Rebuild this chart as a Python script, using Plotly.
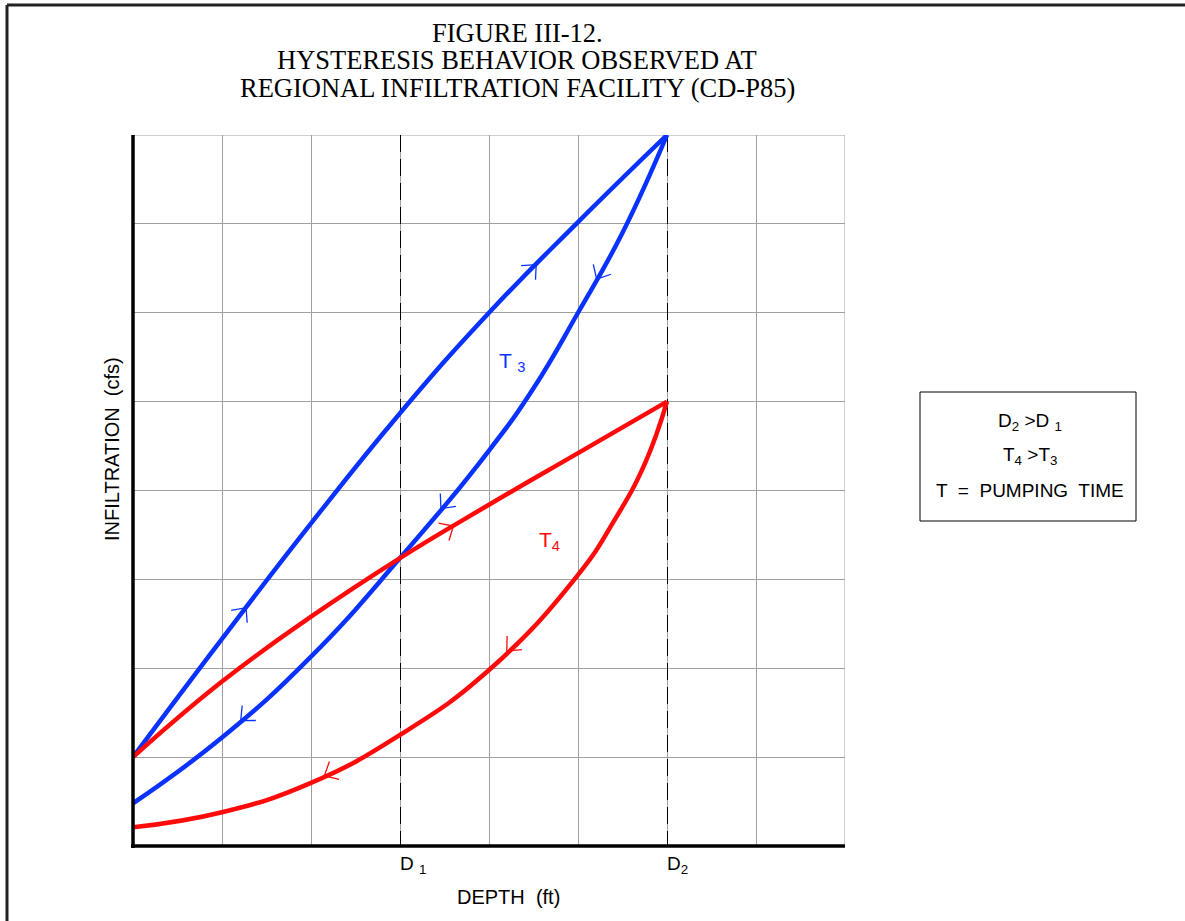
import numpy as np
import plotly.graph_objects as go

# ---------------- data ----------------
t3_up_x = [0, 1, 2, 3, 4, 5, 6]
t3_up_y = [1.0, 2.33, 3.63, 4.87, 6.0, 7.02, 8.0]

t3_down_x = [6, 5.5, 5.0, 4.5, 4.0, 3.0, 2.0, 1.0, 0]
t3_down_y = [8.0, 6.9, 6.0, 5.15, 4.45, 3.24, 2.13, 1.22, 0.48]

t4_up_x = [0, 1, 2, 3, 4, 5, 6]
t4_up_y = [1.0, 1.85, 2.58, 3.24, 3.84, 4.42, 5.0]

t4_down_x = [6, 5.75, 5.4, 5.0, 4.0, 3.0, 2.0, 1.0, 0]
t4_down_y = [5.0, 4.3, 3.65, 3.05, 1.98, 1.25, 0.71, 0.38, 0.21]

# arrow positions (x along curve); direction +1 toward larger depth, -1 back
t3_up_arrows = [1.27, 4.53]
t3_down_arrows = [5.21, 3.46, 1.21]
t4_up_arrows = [3.6]
t4_down_arrows = [4.2, 2.15]

depth_tick_vals = [3, 6]
depth_tick_text = ["D <sub>1</sub>", "D<sub>2</sub>"]

BLUE = "#0a32ff"
RED = "#ff0a0a"
SANS = "Liberation Sans, Arial, sans-serif"
SERIF = "Liberation Serif, Times New Roman, serif"

# plot area in page pixels
PL, PR, PT, PB = 133, 845, 135, 846
PW, PH = PR - PL, PB - PT


def px_x(X):
    return (X - PL) / PW


def px_y(Y):
    return (PB - Y) / PH


def chevrons(xs, ys, positions, direction):
    order = np.argsort(xs)
    sx = np.array(xs, dtype=float)[order]
    sy = np.array(ys, dtype=float)[order]
    px, py = [], []
    L = 0.17
    half = np.radians(42)
    for x0 in positions:
        y0 = np.interp(x0, sx, sy)
        slope = (np.interp(x0 + 0.05, sx, sy) - np.interp(x0 - 0.05, sx, sy)) / 0.1
        t = np.array([1.0, slope]) * direction
        t /= np.linalg.norm(t)
        b = -t
        ends = []
        for sgn in (1, -1):
            c, s = np.cos(sgn * half), np.sin(sgn * half)
            ends.append(np.array([c * b[0] - s * b[1], s * b[0] + c * b[1]]) * L)
        px += [x0 + ends[0][0], x0, x0 + ends[1][0], None]
        py += [y0 + ends[0][1], y0, y0 + ends[1][1], None]
    return px, py


fig = go.Figure()

for xs, ys, col in [
    (t3_up_x, t3_up_y, BLUE),
    (t3_down_x, t3_down_y, BLUE),
    (t4_up_x, t4_up_y, RED),
    (t4_down_x, t4_down_y, RED),
]:
    fig.add_trace(go.Scatter(x=xs, y=ys, mode="lines",
                             line=dict(color=col, width=4.5, shape="spline", smoothing=1.3),
                             hoverinfo="skip", showlegend=False))

for xs, ys, pos, d, col in [
    (t3_up_x, t3_up_y, t3_up_arrows, 1, BLUE),
    (t3_down_x, t3_down_y, t3_down_arrows, -1, BLUE),
    (t4_up_x, t4_up_y, t4_up_arrows, 1, RED),
    (t4_down_x, t4_down_y, t4_down_arrows, -1, RED),
]:
    ax, ay = chevrons(xs, ys, pos, d)
    fig.add_trace(go.Scatter(x=ax, y=ay, mode="lines",
                             line=dict(color=col, width=1.3),
                             hoverinfo="skip", showlegend=False))

fig.update_layout(
    width=1185, height=921,
    margin=dict(l=PL, r=1185 - PR, t=PT, b=921 - PB),
    paper_bgcolor="white", plot_bgcolor="white",
    xaxis=dict(
        range=[0, 8], showline=False,
        tickmode="array", tickvals=depth_tick_vals, ticktext=depth_tick_text,
        showticklabels=False, ticks="",
        showgrid=True, gridcolor="black", gridwidth=1, griddash="17px,7px",
        minor=dict(dtick=1, tick0=0, showgrid=True, gridcolor="#a0a0a0",
                   gridwidth=1, griddash="solid"),
        zeroline=False, fixedrange=True,
    ),
    yaxis=dict(
        range=[0, 8], showline=False,
        tickmode="array", tickvals=[], showticklabels=False, ticks="",
        showgrid=False,
        minor=dict(dtick=1, tick0=0, showgrid=True, gridcolor="#a0a0a0",
                   gridwidth=1, griddash="solid"),
        zeroline=False, fixedrange=True,
    ),
    font=dict(family=SANS, size=19, color="black"),
)

# grid lines at the far edges of the range (top and right)
fig.add_shape(type="line", xref="x", yref="y", x0=0, x1=8, y0=8, y1=8,
              line=dict(color="#a0a0a0", width=1), layer="below")
fig.add_shape(type="line", xref="x", yref="y", x0=8, x1=8, y0=0, y1=8,
              line=dict(color="#a0a0a0", width=1), layer="below")

# heavy axis lines (left and bottom), paper-referenced so they are not clipped
fig.add_shape(type="line", xref="paper", yref="paper", x0=0, x1=0, y0=px_y(848), y1=1,
              line=dict(color="black", width=3.5), layer="above")
fig.add_shape(type="line", xref="paper", yref="paper", x0=px_x(131), x1=1, y0=0, y1=0,
              line=dict(color="black", width=3.5), layer="above")

# Title (three lines)
for txt, cy in [("FIGURE III-12.", 33),
                ("HYSTERESIS BEHAVIOR OBSERVED AT", 60),
                ("REGIONAL INFILTRATION FACILITY (CD-P85)", 88)]:
    fig.add_annotation(x=px_x(517), y=px_y(cy), xref="paper", yref="paper",
                       xanchor="center", yanchor="middle", showarrow=False,
                       text=txt, font=dict(family=SERIF, size=26.5, color="black"))

# Depth tick labels
for v, txt in zip(depth_tick_vals, depth_tick_text):
    fig.add_annotation(x=v, y=px_y(865), xref="x", yref="paper",
                       xanchor="left", yanchor="middle", xshift=-2, showarrow=False,
                       text=txt, font=dict(family=SANS, size=19, color="black"))

# Curve labels
fig.add_annotation(x=px_x(497), y=px_y(362), xref="paper", yref="paper",
                   xanchor="left", yanchor="middle", showarrow=False,
                   text="T <sub>3</sub>", font=dict(family=SANS, size=21, color=BLUE))
fig.add_annotation(x=px_x(537), y=px_y(541), xref="paper", yref="paper",
                   xanchor="left", yanchor="middle", showarrow=False,
                   text="T<sub>4</sub>", font=dict(family=SANS, size=21, color=RED))

# Axis titles
fig.add_annotation(x=px_x(508), y=px_y(897), xref="paper", yref="paper",
                   xanchor="center", yanchor="middle",
                   showarrow=False, text="DEPTH  (ft)", font=dict(family=SANS, size=20, color="black"))
fig.add_annotation(x=px_x(112), y=px_y(449), xref="paper", yref="paper",
                   xanchor="center", yanchor="middle",
                   showarrow=False, text="INFILTRATION  (cfs)", textangle=-90,
                   font=dict(family=SANS, size=20, color="black"))

# Note box
fig.add_shape(type="rect", xref="paper", yref="paper",
              x0=px_x(920), x1=px_x(1136), y0=px_y(521), y1=px_y(392),
              line=dict(color="black", width=1), fillcolor="rgba(0,0,0,0)")
for txt, cy in [("D<sub>2</sub> >D <sub>1</sub>", 422),
                ("T<sub>4</sub> >T<sub>3</sub>", 456),
                ("T  =  PUMPING  TIME", 490)]:
    fig.add_annotation(x=px_x(1030), y=px_y(cy), xref="paper", yref="paper",
                       xanchor="center", yanchor="middle",
                       showarrow=False, text=txt, font=dict(family=SANS, size=19, color="black"))

# Page frame (top and left edges)
fig.add_shape(type="line", xref="paper", yref="paper",
              x0=px_x(7), x1=px_x(1190), y0=px_y(5), y1=px_y(5),
              line=dict(color="#222222", width=3))
fig.add_shape(type="line", xref="paper", yref="paper",
              x0=px_x(7), x1=px_x(7), y0=px_y(5), y1=px_y(930),
              line=dict(color="#222222", width=3))

fig.write_html("out.html", config={"displayModeBar": False},
               post_script="document.body.style.margin='0px';")
